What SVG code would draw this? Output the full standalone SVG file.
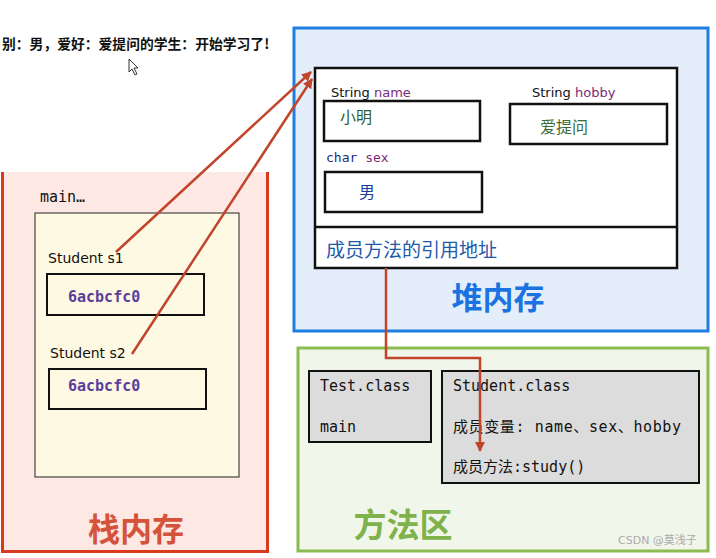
<svg xmlns="http://www.w3.org/2000/svg" width="716" height="558" viewBox="0 0 716 558">
<defs>
<style>
.sans{font-family:"DejaVu Sans","Noto Sans CJK SC",sans-serif}
.mono{font-family:"DejaVu Sans Mono","Noto Sans CJK SC",monospace}
.cjk{font-family:"Noto Sans CJK SC",sans-serif}
.box{fill:#fff;stroke:#111;stroke-width:2.5}
.gbox{fill:#dcdcdc;stroke:#111;stroke-width:2}
.conn{fill:none;stroke:#c0452a;stroke-width:2.5}
</style>
<marker id="ah" viewBox="0 0 10 10" refX="9" refY="5" markerWidth="4" markerHeight="4" orient="auto" markerUnits="strokeWidth">
<path d="M0,0 L10,5 L0,10 z" fill="#c0452a"/>
</marker>
</defs>
<rect width="716" height="558" fill="#fff"/>
<text x="2" y="49" class="cjk" font-size="13.8" font-weight="bold" fill="#111">别：男，爱好：爱提问的学生：开始学习了!</text>
<path d="M129,59 L129,72 L132,69 L135,75 L137,74 L134,68 L138,68 Z" fill="#fff" stroke="#333" stroke-width="1"/>

<g id="heap">
<rect x="294" y="28" width="414" height="303" fill="#e4eefb" stroke="#1e7fe0" stroke-width="3"/>
<rect x="315" y="68" width="362" height="200" class="box"/>
<line x1="315" y1="227" x2="677" y2="227" stroke="#111" stroke-width="2.5"/>
<text x="331" y="97" class="sans" font-size="13" fill="#111">String <tspan fill="#7a2a7a">name</tspan></text>
<rect x="324" y="101" width="156" height="40" class="box" stroke-width="2"/>
<text x="340" y="123" class="cjk" font-size="16" fill="#2e5e2e">小明</text>
<text x="532" y="97" class="sans" font-size="13" fill="#111">String <tspan fill="#7a2a7a">hobby</tspan></text>
<rect x="510" y="104" width="157" height="40" class="box" stroke-width="2"/>
<text x="540" y="133" class="cjk" font-size="16" fill="#3a6b3a">爱提问</text>
<text x="326" y="162" class="mono" font-size="13" fill="#1a2a80">char <tspan fill="#7a2a7a">sex</tspan></text>
<rect x="325" y="172" width="157" height="40" class="box" stroke-width="2"/>
<text x="359" y="198" class="cjk" font-size="16" fill="#1a3d9e">男</text>
<text x="326" y="257" class="cjk" font-size="19" fill="#1f5aa8">成员方法的引用地址</text>
<text x="498" y="309" class="cjk" font-size="31" font-weight="bold" fill="#1a73e0" text-anchor="middle">堆内存</text>
</g>

<g id="stack">
<rect x="2" y="172" width="266" height="380" fill="#fde8e4"/>
<path d="M2.5,172 V551.5 H267.5 V172" fill="none" stroke="#d93a1e" stroke-width="3"/>
<text x="40" y="202" class="mono" font-size="15" fill="#111">main…</text>
<rect x="35" y="213" width="204" height="264" fill="#fef9e2" stroke="#222" stroke-width="1"/>
<text x="48" y="263" class="sans" font-size="14" fill="#111">Student  s1</text>
<rect x="47" y="274" width="157" height="41" fill="none" stroke="#111" stroke-width="2"/>
<text x="68" y="302" class="mono" font-size="15" font-weight="bold" fill="#5b3d9e">6acbcfc0</text>
<text x="50" y="358" class="sans" font-size="14" fill="#111">Student s2</text>
<rect x="49" y="369" width="157" height="40" fill="none" stroke="#111" stroke-width="2"/>
<text x="68" y="391" class="mono" font-size="15" font-weight="bold" fill="#5b3d9e">6acbcfc0</text>
<text x="136" y="541" class="cjk" font-size="32" font-weight="bold" fill="#d4533a" text-anchor="middle">栈内存</text>
</g>

<g id="method-area">
<rect x="298" y="348" width="410" height="203" fill="#f1f6ea" stroke="#8cbb52" stroke-width="3"/>
<rect x="309" y="371" width="122" height="71" class="gbox"/>
<text x="320" y="391" class="mono" font-size="15" fill="#111">Test.class</text>
<text x="320" y="432" class="mono" font-size="15" fill="#111">main</text>
<rect x="442" y="371" width="257" height="112" class="gbox"/>
<text x="453" y="391" class="mono" font-size="15" fill="#111">Student.class</text>
<text x="453" y="432" class="mono" font-size="15" fill="#111" textLength="228" lengthAdjust="spacing">成员变量: name、sex、hobby</text>
<text x="453" y="472" class="mono" font-size="15" fill="#111">成员方法:study()</text>
<text x="403" y="537" class="cjk" font-size="33" font-weight="bold" fill="#7fb24a" text-anchor="middle">方法区</text>
<text x="618" y="544" class="sans" font-size="11" fill="#aaa">CSDN @莫浅子</text>
</g>

<g id="connectors">
<line x1="116" y1="252" x2="311" y2="72" class="conn" marker-end="url(#ah)"/>
<line x1="132" y1="354" x2="312" y2="79" class="conn" marker-end="url(#ah)"/>
<polyline points="386,268 386,358 480,358 480,451" class="conn" marker-end="url(#ah)"/>
</g>
</svg>
